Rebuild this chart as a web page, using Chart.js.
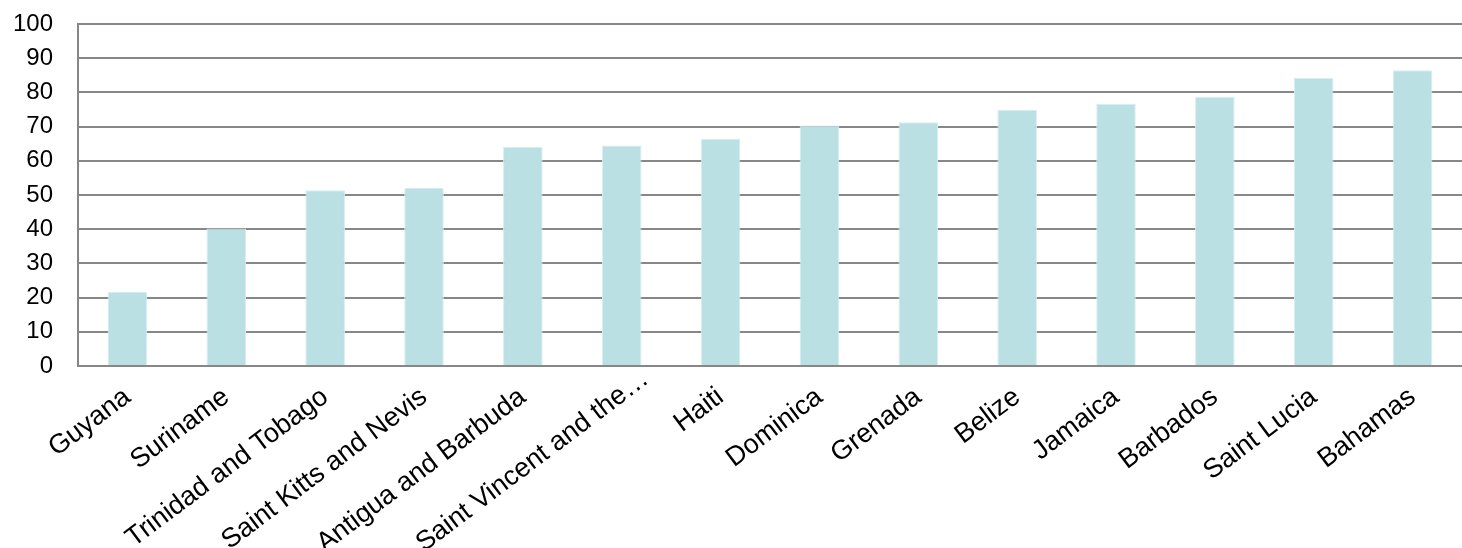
<!DOCTYPE html>
<html>
<head>
<meta charset="utf-8">
<script src="https://cdn.jsdelivr.net/npm/chart.js@4"></script>
<style>
  html, body { margin: 0; padding: 0; background: #fff; }
</style>
</head>
<body>
<canvas id="chart" width="1462" height="548"></canvas>
<script>
// countries, sorted from lowest to highest value
const countries = [
  "Guyana", "Suriname", "Trinidad and Tobago", "Saint Kitts and Nevis",
  "Antigua and Barbuda", "Saint Vincent and the\u2026", "Haiti", "Dominica",
  "Grenada", "Belize", "Jamaica", "Barbados", "Saint Lucia", "Bahamas"
];

const values = [
  21.7, 40.2, 51.4, 52.1, 64.0, 64.5, 66.4,
  70.3, 71.3, 74.9, 76.6, 78.7, 84.2, 86.5
];

const yTicks = [0, 10, 20, 30, 40, 50, 60, 70, 80, 90, 100];

const gridGray = "#878787";
const family = "'Liberation Sans', Arial, sans-serif";
const labelAngle = 37;

// the truncated label sits a little further along its own direction
const nudgeTruncated = {
  id: "nudgeTruncated",
  beforeDraw(chart) {
    const items = chart.scales.x.getLabelItems();
    const shift = 30;
    const rad = labelAngle * Math.PI / 180;
    items.forEach(item => {
      if (String(item.label).endsWith("\u2026") && !item.nudged) {
        const t = item.options.translation;
        item.options.translation = [t[0] + shift * Math.cos(rad), t[1] - shift * Math.sin(rad)];
        item.nudged = true;
      }
    });
  }
};

new Chart(document.getElementById("chart"), {
  type: "bar",
  data: {
    labels: countries,
    datasets: [{
      data: values,
      backgroundColor: "#bbe0e3",
      borderColor: "#d6eef0",
      borderWidth: 1,
      barPercentage: 0.4,
      categoryPercentage: 1.0
    }]
  },
  plugins: [nudgeTruncated],
  options: {
    responsive: false,
    animation: false,
    layout: { padding: { top: 24, left: 0, right: 0, bottom: 0 } },
    plugins: {
      legend: { display: false },
      tooltip: { enabled: false }
    },
    scales: {
      x: {
        grid: { display: false, drawTicks: false },
        border: { display: true, color: gridGray, width: 2 },
        ticks: {
          color: "#000",
          font: { family: family, size: 27 },
          autoSkip: false,
          minRotation: labelAngle,
          maxRotation: labelAngle,
          padding: 15
        },
        afterFit: (scale) => {
          scale.height = 182;
          scale.paddingLeft = 0;
          scale.paddingRight = 0;
        }
      },
      y: {
        min: 0,
        max: 100,
        afterBuildTicks: (scale) => { scale.ticks = yTicks.map(v => ({ value: v })); },
        grid: { color: gridGray, lineWidth: 2, drawTicks: false },
        border: { display: true, color: gridGray, width: 2 },
        ticks: {
          color: "#000",
          font: { family: family, size: 24 },
          padding: 25
        },
        afterFit: (scale) => {
          scale.width = 78;
          scale.paddingTop = 0;
          scale.paddingBottom = 0;
        }
      }
    }
  }
});
</script>
</body>
</html>
